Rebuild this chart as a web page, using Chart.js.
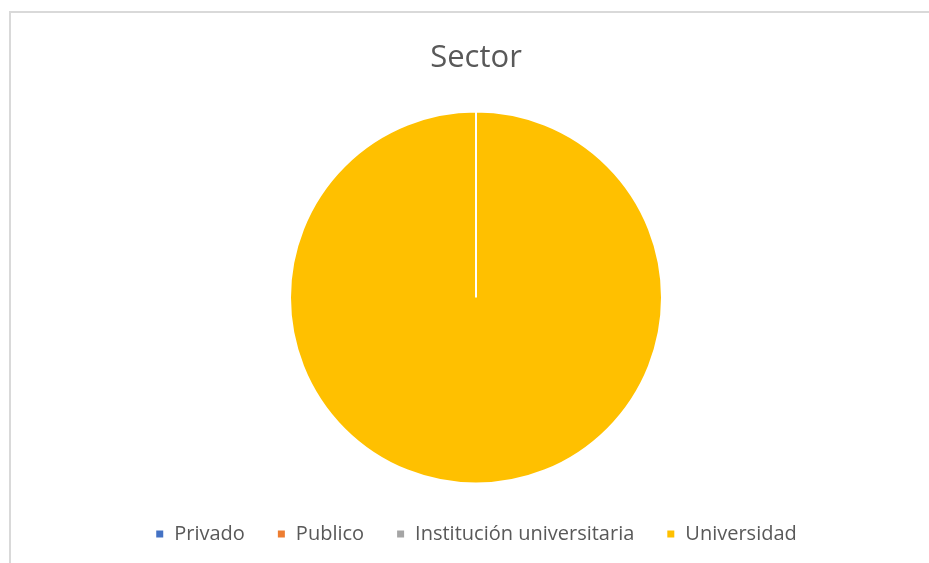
<!DOCTYPE html>
<html>
<head>
<meta charset="utf-8">
<script src="https://cdn.jsdelivr.net/npm/chart.js@4/dist/chart.umd.min.js"></script>
<style>
  html, body { margin: 0; background: #fff; overflow: hidden; width: 929px; height: 563px; }
  #frame {
    position: absolute; left: 9px; top: 11px; width: 930px; height: 560px;
    border-left: 2px solid #d9d9d9; border-top: 2px solid #d9d9d9;
  }
  #wrap { position: absolute; left: 23px; top: 0; width: 906px; height: 580px; }
</style>
</head>
<body>
<div id="frame"></div>
<div id="wrap"><canvas id="myChart"></canvas></div>
<script>
const ctx = document.getElementById('myChart')

const labels = ['Privado', 'Publico', 'Institución universitaria', 'Universidad']
const values = [0, 0, 0, 100]
const colors = ['#4472C4', '#ED7D31', '#A5A5A5', '#FFC000']

const config = {
  type: 'pie',
  data: {
    labels: labels,
    datasets: [{
      data: values,
      backgroundColor: colors,
      borderColor: '#ffffff',
      borderWidth: 2,
      radius: 186
    }]
  },
  options: {
    responsive: true,
    maintainAspectRatio: false,
    animation: false,
    layout: { padding: { bottom: 26 } },
    plugins: {
      title: {
        display: true,
        text: 'Sector',
        color: '#595959',
        font: { family: 'Open Sans', size: 31, weight: 'normal' },
        padding: { top: 40, bottom: 26 }
      },
      legend: {
        position: 'bottom',
        labels: {
          color: '#595959',
          font: { family: 'Open Sans', size: 20 },
          boxWidth: 9,
          boxHeight: 9,
          padding: 32
        }
      },
      tooltip: { enabled: false }
    }
  }
}

const chart = new Chart(ctx, config)
</script>
</body>
</html>
